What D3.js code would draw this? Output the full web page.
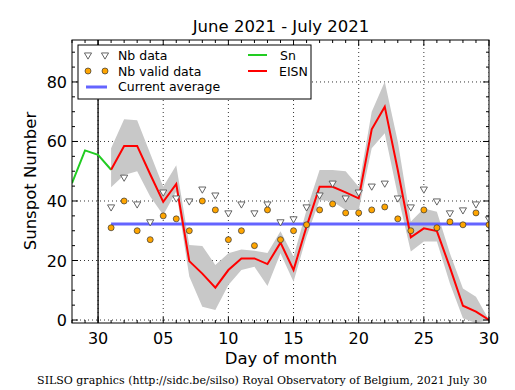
<!DOCTYPE html>
<html>
<head>
<meta charset="utf-8">
<script src="https://cdn.jsdelivr.net/npm/d3@7"></script>
<style>
  body { margin: 0; background: #fff; }
  svg { display: block; }
  text { font-family: "DejaVu Sans", sans-serif; }
</style>
</head>
<body>
<svg id="chart" width="515" height="390"></svg>
<script>
// days: June 28 = -2 ... June 30 = 0, July 1 = 1 ... July 30 = 30
const snDays = [-2, -1, 0, 1]
const snValues = [46, 57, 55.5, 50.5]

const days = d3.range(1, 31)
const eisn = [50.5, 58.5, 58.5, 49, 39.7, 45.7, 19.8, 15.6, 10.9, 16.8, 20.7, 20.7, 18.8, 26, 16.8, 31.4, 44.8, 44.8, 42.9, 40.9, 64.1, 71.7, 50.4, 27.8, 30.8, 29.9, 17.7, 4.8, 2.8, 0]
const eisnHigh = [57.7, 67.5, 67.1, 56, 44.8, 52, 25.2, 24.9, 18.5, 22.4, 23.7, 23.3, 22.5, 29.8, 21.3, 37, 50.4, 50.4, 50, 44.8, 70, 80.1, 60, 33.1, 37.5, 36.4, 22.4, 10.6, 7.8, 0]
const eisnLow = [44.6, 48.7, 50, 41.5, 35.3, 43.2, 14.6, 4.5, 3.4, 11.8, 16.8, 17.9, 11.4, 22.4, 12.9, 28.1, 40.3, 39.8, 37, 37, 57.7, 62.8, 42, 23, 26.4, 26.4, 12.3, 0.6, -1, 0]
const nbData = [38, 48, 39, 33, 43, 41, 40, 44, 42, 36, 39, 36, 39, 33, 34, 38, 42, 46, 41, 43, 45, 46, 41, 38, 44, 40, 36, 37, 39, 34]
const nbValid = [31, 40, 30, 27, 35, 34, 30, 40, 37, 27, 30, 25, 37, 27, 30, 32, 37, 39, 36, 36, 37, 38, 34, 30, 37, 31, 33, 32, 36, 32]
const currentAverage = 32.3

const xTickValues = [0, 5, 10, 15, 20, 25, 30]
const xTickLabels = ["30", "05", "10", "15", "20", "25", "30"]
const yTickValues = [0, 20, 40, 60, 80]

const margin = {left: 72, right: 26, top: 40, bottom: 67}
const width = 515, height = 390
const svg = d3.select("#chart")

const x = d3.scaleLinear().domain([-2, 30]).range([margin.left, width - margin.right])
const y = d3.scaleLinear().domain([-1, 94.1]).range([height - margin.bottom, margin.top])

const plot = svg.append("g")
svg.append("defs").append("clipPath").attr("id", "clip")
    .append("rect")
    .attr("x", margin.left).attr("y", margin.top)
    .attr("width", x.range()[1] - x.range()[0])
    .attr("height", y.range()[0] - y.range()[1])
plot.attr("clip-path", "url(#clip)")

// grid
plot.selectAll("line.gx")
    .data(xTickValues)
    .join("line")
    .attr("x1", d => x(d)).attr("x2", d => x(d))
    .attr("y1", y.range()[1]).attr("y2", y.range()[0])
    .attr("stroke", "#000").attr("stroke-width", 0.8)
    .attr("stroke-dasharray", "1,3")
plot.selectAll("line.gy")
    .data(yTickValues)
    .join("line")
    .attr("y1", d => y(d)).attr("y2", d => y(d))
    .attr("x1", x.range()[0]).attr("x2", x.range()[1])
    .attr("stroke", "#000").attr("stroke-width", 0.8)
    .attr("stroke-dasharray", "1,3")

// error band
const band = d3.area()
    .x((d, i) => x(days[i]))
    .y0((d, i) => y(eisnLow[i]))
    .y1((d, i) => y(eisnHigh[i]))
plot.append("path")
    .datum(eisn)
    .attr("d", band)
    .attr("fill", "#c8c8c8")

// month boundary
plot.append("line")
    .attr("x1", x(0)).attr("x2", x(0))
    .attr("y1", y.range()[1]).attr("y2", y.range()[0])
    .attr("stroke", "#000").attr("stroke-width", 1.3)

// current average
plot.append("line")
    .attr("x1", x(1)).attr("x2", x(30))
    .attr("y1", y(currentAverage)).attr("y2", y(currentAverage))
    .attr("stroke", "#6464ff").attr("stroke-width", 3)

// Sn line
const line = d3.line()
plot.append("path")
    .datum(snDays.map((d, i) => [x(d), y(snValues[i])]))
    .attr("d", line)
    .attr("fill", "none").attr("stroke", "#22cc22").attr("stroke-width", 2)

// EISN line
plot.append("path")
    .datum(days.map((d, i) => [x(d), y(eisn[i])]))
    .attr("d", line)
    .attr("fill", "none").attr("stroke", "#ff0000").attr("stroke-width", 2)

// markers
const tri = d3.symbol().type(d3.symbolTriangle).size(22)
function triangle(sel, cx, cy){
    sel.append("path")
        .attr("d", tri())
        .attr("transform", `translate(${cx},${cy}) rotate(180)`)
        .attr("fill", "#fff").attr("stroke", "#555").attr("stroke-width", 0.9)
}
nbData.forEach((v, i) => triangle(plot, x(days[i]), y(v)))

plot.selectAll("circle.valid")
    .data(nbValid)
    .join("circle")
    .attr("cx", (d, i) => x(days[i]))
    .attr("cy", d => y(d))
    .attr("r", 3)
    .attr("fill", "#ffa500").attr("stroke", "#333").attr("stroke-width", 0.7)

// ticks (inward), minor every day / every 5 units
const axisG = svg.append("g")
const xMinor = d3.range(-2, 31)
const yMinor = d3.range(0, 95, 5)
xMinor.forEach(d => {
    const l = xTickValues.includes(d) ? 6 : 3
    axisG.append("line").attr("x1", x(d)).attr("x2", x(d))
        .attr("y1", y.range()[0]).attr("y2", y.range()[0] - l).attr("stroke", "#000")
    axisG.append("line").attr("x1", x(d)).attr("x2", x(d))
        .attr("y1", y.range()[1]).attr("y2", y.range()[1] + l).attr("stroke", "#000")
})
yMinor.forEach(d => {
    const l = yTickValues.includes(d) ? 6 : 3
    axisG.append("line").attr("y1", y(d)).attr("y2", y(d))
        .attr("x1", x.range()[0]).attr("x2", x.range()[0] + l).attr("stroke", "#000")
    axisG.append("line").attr("y1", y(d)).attr("y2", y(d))
        .attr("x1", x.range()[1]).attr("x2", x.range()[1] - l).attr("stroke", "#000")
})

// frame
svg.append("rect")
    .attr("x", x.range()[0]).attr("y", y.range()[1])
    .attr("width", x.range()[1] - x.range()[0])
    .attr("height", y.range()[0] - y.range()[1])
    .attr("fill", "none").attr("stroke", "#000").attr("stroke-width", 1)

// tick labels
svg.selectAll("text.xl")
    .data(xTickValues)
    .join("text")
    .attr("x", d => x(d)).attr("y", y.range()[0] + 21)
    .attr("text-anchor", "middle").attr("font-size", 16)
    .text((d, i) => xTickLabels[i])
svg.selectAll("text.yl")
    .data(yTickValues)
    .join("text")
    .attr("x", x.range()[0] - 5).attr("y", d => y(d) + 6)
    .attr("text-anchor", "end").attr("font-size", 16)
    .text(d => d)

// titles
svg.append("text").attr("x", 281).attr("y", 32)
    .attr("text-anchor", "middle").attr("font-size", 16.5)
    .text("June 2021 - July 2021")
svg.append("text").attr("x", 281).attr("y", 364)
    .attr("text-anchor", "middle").attr("font-size", 16.5)
    .text("Day of month")
svg.append("text")
    .attr("transform", `translate(36,181) rotate(-90)`)
    .attr("text-anchor", "middle").attr("font-size", 16.5)
    .text("Sunspot Number")
svg.append("text").attr("x", 262).attr("y", 384)
    .attr("text-anchor", "middle").attr("font-size", 11)
    .style("font-family", "'DejaVu Serif', serif")
    .text("SILSO graphics (http://sidc.be/silso) Royal Observatory of Belgium, 2021 July 30")

// legend
const lg = svg.append("g")
lg.append("rect").attr("x", 78).attr("y", 45).attr("width", 233).attr("height", 54)
    .attr("fill", "#fff").attr("stroke", "#000").attr("stroke-width", 1)
triangle(lg, 88, 55)
triangle(lg, 105, 55)
;[88, 105].forEach(cx => lg.append("circle").attr("cx", cx).attr("cy", 71).attr("r", 3)
    .attr("fill", "#ffa500").attr("stroke", "#333").attr("stroke-width", 0.7))
lg.append("line").attr("x1", 86).attr("x2", 107).attr("y1", 87).attr("y2", 87)
    .attr("stroke", "#6464ff").attr("stroke-width", 3)
lg.append("line").attr("x1", 248).attr("x2", 267).attr("y1", 55).attr("y2", 55)
    .attr("stroke", "#22cc22").attr("stroke-width", 2)
lg.append("line").attr("x1", 248).attr("x2", 267).attr("y1", 71).attr("y2", 71)
    .attr("stroke", "#ff0000").attr("stroke-width", 2)
const legendText = [["Nb data", 118, 60], ["Nb valid data", 118, 76], ["Current average", 118, 91], ["Sn", 280, 60], ["EISN", 279, 76]]
lg.selectAll("text")
    .data(legendText)
    .join("text")
    .attr("x", d => d[1]).attr("y", d => d[2])
    .attr("font-size", 12.5)
    .text(d => d[0])
</script>
</body>
</html>
